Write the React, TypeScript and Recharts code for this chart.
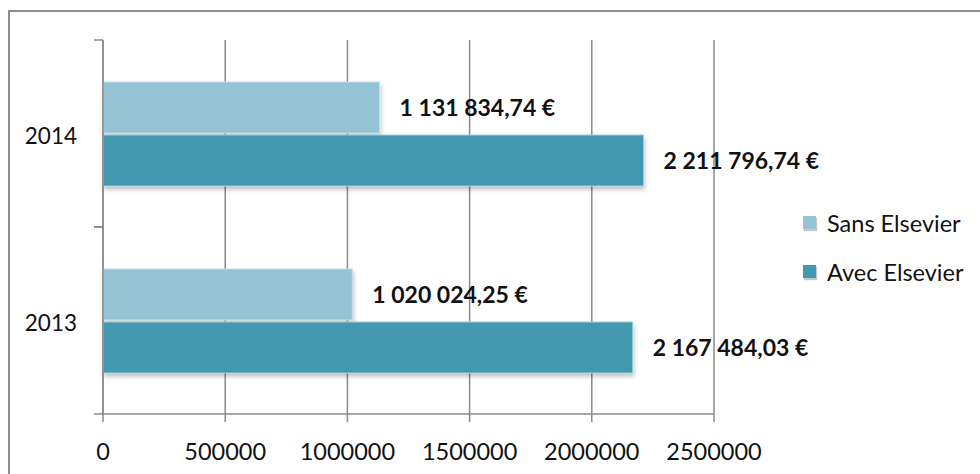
import { BarChart, Bar, XAxis, YAxis, CartesianGrid, Legend, LabelList } from 'recharts';

const years = ['2014', '2013'];
const seriesNames = ['Sans Elsevier', 'Avec Elsevier'];
const sansElsevier = [1131834.74, 1020024.25];
const avecElsevier = [2211796.74, 2167484.03];
const xTicks = [0, 500000, 1000000, 1500000, 2000000, 2500000];

const SANS_COLOR = '#93c3d4';
const AVEC_COLOR = '#4298ae';
const GRID = '#8a8a8a';
const FONT = 'Lato, "Open Sans", sans-serif';

const W = 970;
const H = 464;
const MARGIN = { top: 28, right: 266, left: 13, bottom: 0 };
const Y_WIDTH = 80;
const X_HEIGHT = 62;
const PLOT_H = H - MARGIN.top - MARGIN.bottom - X_HEIGHT;
const BAND = PLOT_H / years.length;

const data = years.map((year, i) => ({
  year,
  [seriesNames[0]]: sansElsevier[i],
  [seriesNames[1]]: avecElsevier[i],
}));

// 1131834.74 -> "1 131 834,74 €"
function euro(v: number) {
  const [int, dec] = v.toFixed(2).split('.');
  return int.replace(/\B(?=(\d{3})+(?!\d))/g, ' ') + ',' + dec + ' €';
}

function YearTick(props: any) {
  const { x, y, payload } = props;
  return (
    <g>
      <line x1={x - 9} x2={x} y1={y - BAND / 2} y2={y - BAND / 2} stroke={GRID} strokeWidth={1.5} />
      <line x1={x - 9} x2={x} y1={y + BAND / 2} y2={y + BAND / 2} stroke={GRID} strokeWidth={1.5} />
      <text x={x - 26} y={payload.coordinate + 2} textAnchor="end" dominantBaseline="central" fontSize={22.5} fill="#111" fontFamily={FONT}>
        {payload.value}
      </text>
    </g>
  );
}

function LegendBox(props: any) {
  const items = [...(props.payload || [])].sort(
    (a: any, b: any) => seriesNames.indexOf(a.value) - seriesNames.indexOf(b.value)
  );
  return (
    <div style={{ fontFamily: FONT }}>
      {items.map((it: any) => (
        <div key={it.value} style={{ display: 'flex', alignItems: 'center', height: 49 }}>
          <span style={{ display: 'inline-block', width: 13, height: 13, background: it.color, boxShadow: '1px 2px 1px #c8c8c8', marginRight: 11 }} />
          <span style={{ fontSize: 23.5, color: '#111' }}>{it.value}</span>
        </div>
      ))}
    </div>
  );
}

export default function App() {
  const labelStyle = { fontWeight: 700, fontSize: 23, fill: '#111', fontFamily: FONT };
  return (
    <div
      style={{
        position: 'fixed',
        left: 8,
        top: 10,
        width: W,
        height: H,
        borderTop: '2px solid #8e8e8e',
        borderLeft: '2px solid #8e8e8e',
        overflow: 'hidden',
        background: '#fff',
      }}
    >
      <BarChart width={W} height={H} data={data} layout="vertical" margin={MARGIN} barSize={51} barGap={2}>
        <defs>
          <filter id="barShadow" x="-5%" y="-10%" width="115%" height="140%">
            <feDropShadow dx="1" dy="3" stdDeviation="2" floodColor="#000" floodOpacity="0.25" />
          </filter>
        </defs>
        <CartesianGrid horizontal={false} stroke={GRID} strokeWidth={1.5} />
        <XAxis
          type="number"
          domain={[0, 2500000]}
          ticks={xTicks}
          interval={0}
          height={X_HEIGHT}
          stroke={GRID}
          strokeWidth={1.5}
          tickSize={8}
          tickMargin={21}
          tick={{ fill: '#111', fontSize: 23.5, fontFamily: FONT }}
        />
        <YAxis
          type="category"
          dataKey="year"
          width={Y_WIDTH}
          stroke={GRID}
          strokeWidth={1.5}
          tickLine={false}
          tickSize={0}
          tickMargin={0}
          tick={<YearTick />}
        />
        <Legend
          layout="horizontal"
          verticalAlign="middle"
          align="center"
          content={<LegendBox />}
          wrapperStyle={{ left: 793, top: 186, width: 180 }}
        />
        <Bar dataKey={seriesNames[0]} fill={SANS_COLOR} stroke="#c4e0ea" strokeWidth={1} filter="url(#barShadow)" isAnimationActive={false}>
          <LabelList dataKey={seriesNames[0]} position="right" offset={20} formatter={(v: any) => euro(Number(v))} style={labelStyle} />
        </Bar>
        <Bar dataKey={seriesNames[1]} fill={AVEC_COLOR} stroke="#9fd0de" strokeWidth={1} filter="url(#barShadow)" isAnimationActive={false}>
          <LabelList dataKey={seriesNames[1]} position="right" offset={20} formatter={(v: any) => euro(Number(v))} style={labelStyle} />
        </Bar>
      </BarChart>
    </div>
  );
}
